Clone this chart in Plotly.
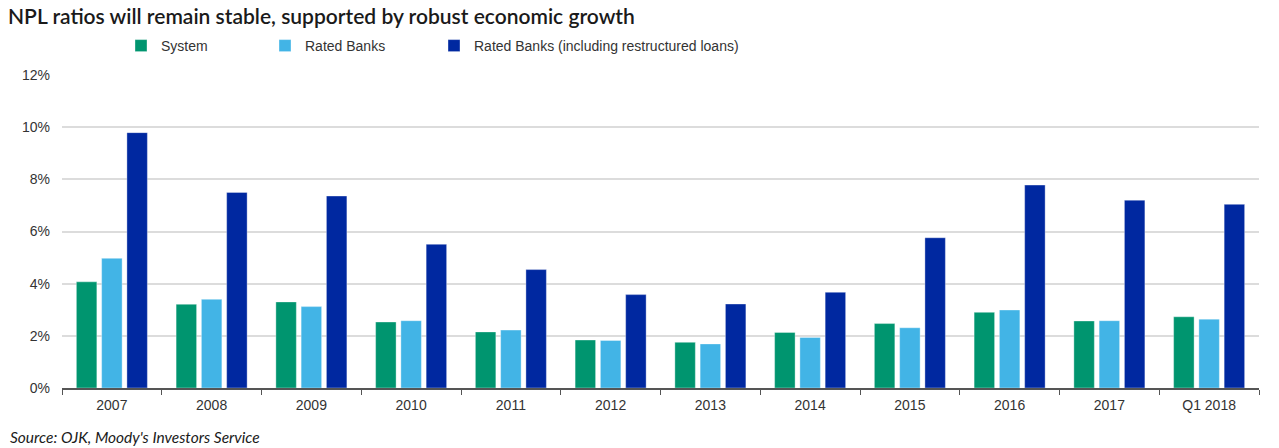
import plotly.graph_objects as go

# NPL ratios by year (%)
categories = ["2007", "2008", "2009", "2010", "2011", "2012", "2013",
              "2014", "2015", "2016", "2017", "Q1 2018"]
system = [4.07, 3.21, 3.30, 2.53, 2.15, 1.84, 1.75, 2.13, 2.47, 2.90, 2.57, 2.73]
rated_banks = [4.97, 3.40, 3.12, 2.58, 2.22, 1.82, 1.69, 1.94, 2.31, 2.99, 2.58, 2.64]
rated_banks_restructured = [9.79, 7.50, 7.36, 5.51, 4.54, 3.58, 3.22, 3.67, 5.76, 7.78, 7.20, 7.04]

y_ticks = [0, 2, 4, 6, 8, 10, 12]

series = [
    ("System", system, "#00956F", "legend"),
    ("Rated Banks", rated_banks, "#42B4E6", "legend2"),
    ("Rated Banks (including restructured loans)", rated_banks_restructured, "#0028A0", "legend3"),
]

fig = go.Figure()
for name, vals, color, lg in series:
    fig.add_trace(go.Bar(
        x=categories, y=vals, name=name, legend=lg, showlegend=True,
        marker=dict(color=color, line=dict(color="rgba(255,255,255,0.35)", width=1)),
        hoverinfo="x+y+name",
    ))

sans = "Liberation Sans, Arial, sans-serif"
axis_font = dict(family=sans, size=14, color="#333333")
legend_common = dict(orientation="h", xanchor="left", yanchor="middle",
                     yref="container", y=1 - 46 / 448, bgcolor="rgba(0,0,0,0)",
                     font=dict(family=sans, size=14, color="#333333"),
                     itemwidth=30, tracegroupgap=0, visible=True)

fig.update_layout(
    width=1279, height=448,
    margin=dict(l=62, r=20, t=75, b=60, autoexpand=False),
    paper_bgcolor="white", plot_bgcolor="white",
    showlegend=True,
    barmode="group", bargap=0.24, bargroupgap=0.19,
    title=dict(
        text="NPL ratios will remain stable, supported by robust economic growth",
        x=8 / 1279, xanchor="left", xref="container",
        y=1 - 17 / 448, yanchor="middle", yref="container",
        font=dict(family="Lato, sans-serif", size=21, weight=600, color="#1a1a1a"),
    ),
    legend=dict(legend_common, x=(161 - 40) / 1279, xref="container"),
    legend2=dict(legend_common, x=(305 - 40) / 1279, xref="container"),
    legend3=dict(legend_common, x=(474 - 40) / 1279, xref="container"),
    xaxis=dict(
        type="category", tickfont=axis_font,
        showline=True, linecolor="#555555", linewidth=1.5,
        ticks="outside", tickson="boundaries", ticklen=5, tickcolor="#555555",
        showgrid=False, ticklabelstandoff=3,
    ),
    yaxis=dict(
        range=[0, 12], tickvals=y_ticks, ticktext=[f"{v}%" for v in y_ticks],
        tickfont=axis_font, showgrid=True, gridcolor="#dcdcdc", gridwidth=1.5,
        zeroline=False, showline=False, ticks="", ticklabelstandoff=11,
    ),
    annotations=[dict(
        text="<i>Source: OJK, Moody's Investors Service</i>",
        xref="paper", yref="paper", x=-54 / 1197, y=-(437 - 388) / 313,
        xanchor="left", yanchor="middle", showarrow=False,
        font=dict(family="Lato, sans-serif", size=15.5, color="#1a1a1a"),
    )],
)

fig.write_html("out.html")
